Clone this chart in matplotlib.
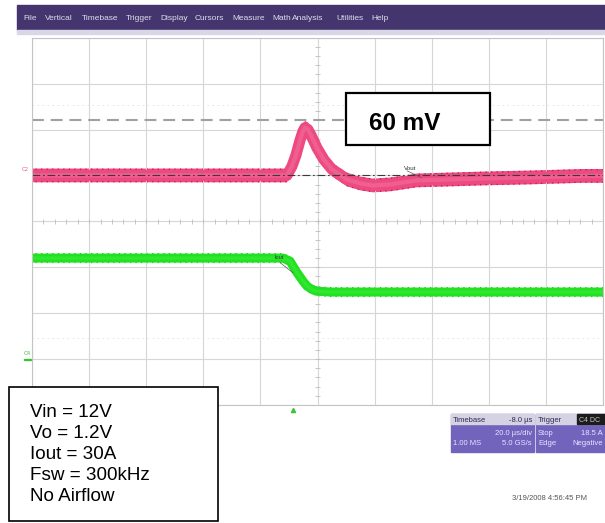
"""Captura de osciloscopio: respuesta transitoria de Vout ante escalón de carga."""

import matplotlib.pyplot as plt
from matplotlib.patches import Rectangle
import numpy as np

# ---- datos ----
menu_items = ["File", "Vertical", "Timebase", "Trigger", "Display", "Cursors",
              "Measure", "Math", "Analysis", "Utilities", "Help"]

# Vout (C2): tiempo en us relativo al disparo, desviación en mV
vout_t = [-91.4, -2.1, -0.35, 1.05, 2.45, 3.5, 4.2, 5.25, 6.3, 8.4, 10.9, 13.7,
          18.9, 23.5, 28.0, 34.0, 43.4, 55.0, 66.6, 83.0, 101.6, 108.6]
vout_mv = [0, 0, 10, 22, 38, 48, 52, 50, 44, 30, 17, 6.5,
           -4.4, -8.7, -10.9, -9.8, -5.4, -4.4, -3.3, -2.2, -0.5, -0.5]

# corriente de carga (C4) en A
iout_t = [-91.4, -3.5, -1.05, 1.4, 3.5, 4.9, 6.7, 8.4, 13.0, 108.6]
iout_a = [30, 30, 28.7, 23.7, 20.0, 17.8, 16.3, 15.6, 15.2, 15.2]

overshoot_mv = 60
overshoot_label = "60 mV"
spec_lines = ["Vin = 12V", "Vo = 1.2V", "Iout = 30A", "Fsw = 300kHz", "No Airflow"]
timebase_rows = [("Timebase", "-8.0 µs"), ("", "20.0 µs/div"), ("1.00 MS", "5.0 GS/s")]
trigger_rows = [("Trigger", ""), ("Stop", "18.5 A"), ("Edge", "Negative")]
timestamp = "3/19/2008 4:56:45 PM"

# escalas del osciloscopio (div)
mv_por_div = 50
a_por_div = 20

W, H = 605, 523


def fx(x):
    return x / W


def fy(y):
    return 1 - y / H


plt.rcParams['font.family'] = ['Liberation Sans', 'DejaVu Sans']
plt.rcParams['hatch.linewidth'] = 0.9

fig = plt.figure(figsize=(6.05, 5.23), dpi=100)
fig.patch.set_facecolor("white")

# ---- retícula ----
ax = fig.add_axes([fx(32), fy(405), fx(603) - fx(32), (405 - 37.7) / H])
t0, t1 = -91.4, 108.6
ax.set_xlim(t0, t1)
ax.set_ylim(-4, 4)
ax.set_xticks([t0 + 20 * k for k in range(11)])
ax.set_yticks(range(-4, 5))
ax.tick_params(length=0, labelbottom=False, labelleft=False)
ax.grid(color="#d6d6d6", lw=0.8)
for s in ax.spines.values():
    s.set_color("#c4c4c4")
    s.set_linewidth(0.8)

tc = (t0 + t1) / 2
ax.vlines([t0 + 4 * k for k in range(51)], -0.06, 0.06, color="#bdbdbd", lw=0.6)
ax.hlines([-4 + 0.2 * k for k in range(41)], tc - 0.9, tc + 0.9, color="#bdbdbd", lw=0.6)
for yy in (2.53, -2.53):
    ax.axhline(yy, color="#e2e2e2", lw=0.6, ls=(0, (2, 4)))

# ---- trazas ----
v = 1 + np.array(vout_mv) / mv_por_div
i = -0.8 + (np.array(iout_a) - 30) / a_por_div

ax.axhline(1 + overshoot_mv / mv_por_div, color="#a0a0a0", lw=1.5, ls=(0, (5.7, 3.3)))

ax.plot(iout_t, i, color="#22e022", lw=6.5, solid_joinstyle="round")
ax.fill_between(iout_t, i - 0.11, i + 0.11, facecolor="none",
                edgecolor="#17bf17", hatch="|||", lw=0)
ax.plot(iout_t, i, color="#2ee82e", lw=2.5)

ax.plot(vout_t, v, color="#ee4a82", lw=8, solid_joinstyle="round")
ax.fill_between(vout_t, v - 0.15, v + 0.15, facecolor="#ee4a82",
                edgecolor="#c21d4f", hatch="|||", lw=0)
ax.plot(vout_t, v, color="#f0608f", lw=3)
ax.axhline(1, color="#3a3a3a", lw=0.8, ls=(0, (7, 2.5, 1.5, 2.5)))

ax.text(41, 1.12, "Vout", fontsize=4.5, color="#333333", ha="center")
ax.plot([40, 45], [1.1, 0.95], color="#555555", lw=0.5)
ax.text(-5, -0.82, "Iout", fontsize=4, color="#333333", ha="center")
ax.plot([-4.5, 0], [-0.9, -1.12], color="#555555", lw=0.5)

ax.plot([0], [-4.1], marker="^", color="#3cc23c", ms=3, clip_on=False)

# etiquetas de canal
fig.text(fx(22), fy(171), "C2", fontsize=4, color="#e0608a")
fig.text(fx(24), fy(355), "C4", fontsize=4, color="#3cc23c")
fig.add_artist(Rectangle((fx(24), fy(360)), 7 / W, 1.5 / H,
                         transform=fig.transFigure, color="#3cc23c"))

# ---- barra de menú ----
fig.add_artist(Rectangle((fx(17), fy(30)), (605 - 17) / W, 25 / H,
                         transform=fig.transFigure, color="#45356f"))
fig.add_artist(Rectangle((fx(17), fy(34)), (605 - 17) / W, 4 / H,
                         transform=fig.transFigure, color="#d9d6e6"))
menu_x = [23, 45, 82, 126, 160, 195, 232, 272, 292, 336, 371]
for nombre, x in zip(menu_items, menu_x):
    fig.text(fx(x), fy(20), nombre, fontsize=6, color="#dcdcec")

# ---- cuadro de 60 mV ----
fig.add_artist(Rectangle((fx(346), fy(145)), 144 / W, 52 / H, transform=fig.transFigure,
                         facecolor="white", edgecolor="black", lw=1.6))
fig.text(fx(405), fy(130), overshoot_label, fontsize=17.5, fontweight="bold",
         ha="center", va="baseline")

# ---- cuadro de condiciones ----
fig.add_artist(Rectangle((fx(9), fy(521)), 209 / W, 134 / H, transform=fig.transFigure,
                         facecolor="white", edgecolor="black", lw=1.2))
for k, linea in enumerate(spec_lines):
    fig.text(fx(30), fy(416.7 + 21 * k), linea, fontsize=13.6, va="baseline")

# ---- paneles de base de tiempo / disparo ----
for x0, x1, filas in ((451, 534, timebase_rows), (536, 612, trigger_rows)):
    fig.add_artist(Rectangle((fx(x0), fy(452)), (x1 - x0) / W, 38 / H,
                             transform=fig.transFigure, color="#7264bd"))
    fig.add_artist(Rectangle((fx(x0), fy(424)), (x1 - x0) / W, 10 / H,
                             transform=fig.transFigure, color="#d5d3e3"))
    xr = min(x1, 605) - 2
    for k, (izq, der) in enumerate(filas):
        col = "#2c2a50" if k == 0 else "#e6e4ff"
        yb = [422.5, 435, 445][k]
        fig.text(fx(x0 + 2), fy(yb), izq, fontsize=5.5, color=col, va="baseline")
        fig.text(fx(xr), fy(yb), der, fontsize=5.5, color=col, va="baseline", ha="right")

fig.add_artist(Rectangle((fx(577), fy(424)), 30 / W, 10 / H,
                         transform=fig.transFigure, color="#1c1c1c"))
fig.text(fx(579), fy(422.5), "C4 DC", fontsize=5, color="#c8c8c8", va="baseline")

fig.text(fx(512), fy(500), timestamp, fontsize=5.5, color="#555555", va="baseline")

fig.savefig("out.png", dpi=100)
